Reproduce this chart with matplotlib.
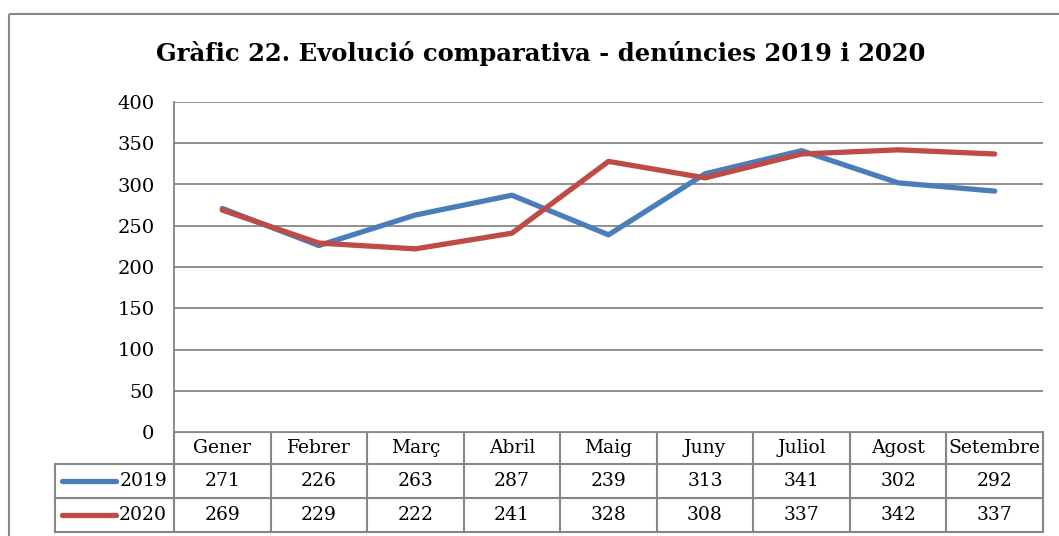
import matplotlib
matplotlib.use('Agg')
import matplotlib.pyplot as plt
from matplotlib.patches import Rectangle

mesos = ['Gener', 'Febrer', 'Març', 'Abril', 'Maig', 'Juny', 'Juliol', 'Agost', 'Setembre']
anys = ['2019', '2020']
den_2019 = [271, 226, 263, 287, 239, 313, 341, 302, 292]
den_2020 = [269, 229, 222, 241, 328, 308, 337, 342, 337]
colors = ['#4A7EBB', '#BE4B48']

plt.rcParams['font.family'] = ['DejaVu Serif']
W, H = 1059, 536
fig = plt.figure(figsize=(W / 100, H / 100), dpi=100)

# overlay axes in pixel coords for the frame and table
ov = fig.add_axes([0, 0, 1, 1])
ov.set_xlim(0, W)
ov.set_ylim(H, 0)
ov.axis('off')

def px(x0, y0, x1, y1):
    return [x0 / W, 1 - y1 / H, (x1 - x0) / W, (y1 - y0) / H]

# main plot area
ax = fig.add_axes(px(174, 102, 1043, 432))
n = len(mesos)
xs = [i + 0.5 for i in range(n)]
ax.set_xlim(0, n)
ax.set_ylim(0, 400)
ax.set_yticks(range(0, 401, 50))
ax.set_xticks([])
ax.grid(axis='y', color='#868686', linewidth=1.3)
ax.set_axisbelow(True)
for s in ['top', 'right', 'bottom']:
    ax.spines[s].set_visible(False)
ax.spines['left'].set_color('#868686')
ax.spines['left'].set_linewidth(1.3)
ax.tick_params(axis='y', length=0, labelsize=14, pad=14)
ax.plot(xs, den_2019, color=colors[0], linewidth=3.8, solid_capstyle='round')
ax.plot(xs, den_2020, color=colors[1], linewidth=3.8, solid_capstyle='round')

# outer frame
ov.add_patch(Rectangle((9, 14), 1200, 600, fill=False, edgecolor='#888888', linewidth=1.5))

fig.text(541 / W, 1 - 53 / H, 'Gràfic 22. Evolució comparativa - denúncies 2019 i 2020',
         ha='center', va='center', fontsize=17.5, fontweight='bold')

# data table
gc = '#868686'
x_left, x0, x1 = 55, 174, 1043
rows_y = [432, 464, 498, 532]
cw = (x1 - x0) / n
ov.plot([x0, x1], [rows_y[0], rows_y[0]], color=gc, lw=1.5)
for y in rows_y[1:]:
    ov.plot([x_left, x1], [y, y], color=gc, lw=1.5)
for i in range(n + 1):
    ov.plot([x0 + i * cw] * 2, [rows_y[0], rows_y[3]], color=gc, lw=1.5)
ov.plot([x_left, x_left], [rows_y[1], rows_y[3]], color=gc, lw=1.5)

for i, m in enumerate(mesos):
    ov.text(x0 + (i + 0.5) * cw, (rows_y[0] + rows_y[1]) / 2, m, ha='center', va='center', fontsize=13.5)
for r, vals in enumerate([den_2019, den_2020]):
    yc = (rows_y[r + 1] + rows_y[r + 2]) / 2
    for i, v in enumerate(vals):
        ov.text(x0 + (i + 0.5) * cw, yc, str(v), ha='center', va='center', fontsize=13.5)
    ov.plot([62, 116], [yc, yc], color=colors[r], lw=3.8, solid_capstyle='round')
    ov.text(167, yc, anys[r], ha='right', va='center', fontsize=13.5)

fig.savefig('out.png', dpi=100)
